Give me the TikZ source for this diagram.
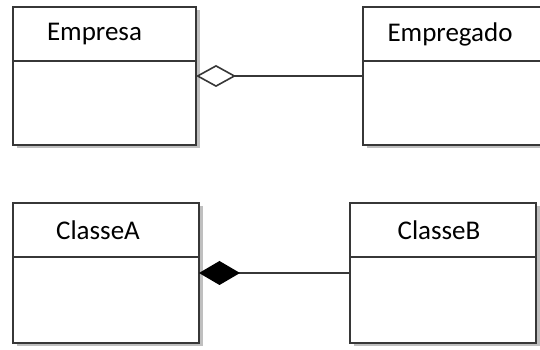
\documentclass[tikz,border=0pt]{standalone}
\usepackage{fontspec}
\setmainfont{Carlito}
\usetikzlibrary{positioning,arrows.meta,shadows}
\definecolor{umlln}{RGB}{55,55,55}

\begin{document}
\begin{tikzpicture}[x=1pt,y=1pt,font=\fontsize{27}{32}\selectfont,
  cls/.style={draw=umlln,line width=1.9pt,fill=white,outer sep=0pt,inner sep=0pt,
    drop shadow={shadow xshift=3.5pt,shadow yshift=-3.5pt,fill=black!25,opacity=1}},
  head/.style={cls,minimum height=54pt},
  body/.style={cls,minimum height=84pt},
  link/.style={draw=umlln,line width=1.8pt}]
  \useasboundingbox (0,0) rectangle (540,350);
  % aggregation
  \node[head,minimum width=183pt,anchor=north west,label={[xshift=-10pt]center:Empresa}] (emp) at (13,343) {};
  \node[body,minimum width=183pt,below=0pt of emp] (empb) {};
  \node[head,minimum width=182pt,right=167pt of emp,label={[xshift=-4pt]center:Empregado}] (egd) {};
  \node[body,minimum width=182pt,below=0pt of egd] (egdb) {};
  % composition
  \node[head,minimum width=186pt,below=58pt of empb,xshift=1.5pt,label={[xshift=-8pt]center:ClasseA}] (ca) {};
  \node[body,minimum width=186pt,minimum height=86pt,below=0pt of ca] (cab) {};
  \node[head,minimum width=186pt,right=151pt of ca,label={[xshift=-4pt]center:ClasseB}] (cb) {};
  \node[body,minimum width=186pt,minimum height=86pt,below=0pt of cb] (cbb) {};
  \draw[link,{Diamond[open,length=40pt,width=22pt,line width=1.6pt]}-]
    ([yshift=-15pt]empb.north east) -- ([yshift=-15pt]egdb.north west);
  \draw[link,{Diamond[length=41pt,width=24pt,color=black]}-]
    ([yshift=-16pt]cab.north east) -- ([yshift=-16pt]cbb.north west);
\end{tikzpicture}
\end{document}
